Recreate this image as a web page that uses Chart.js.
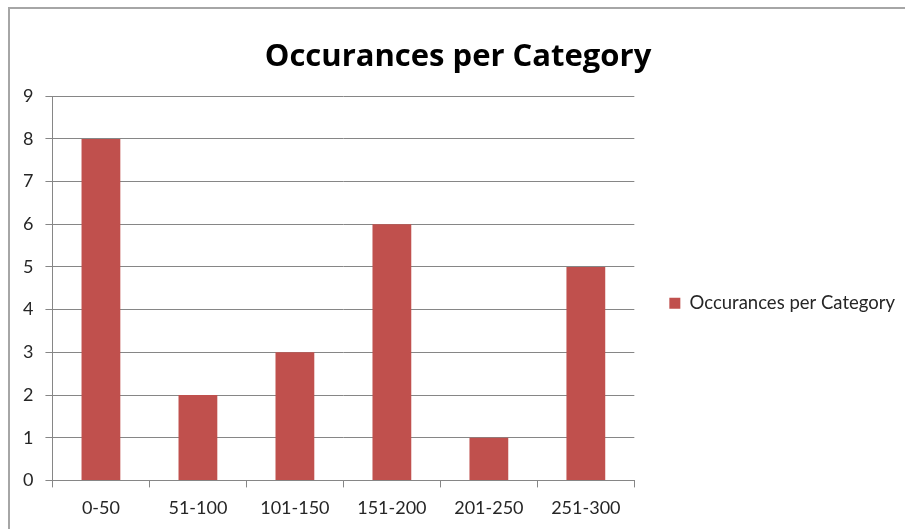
<!DOCTYPE html>
<html>
<head>
<meta charset="utf-8">
<script src="https://cdn.jsdelivr.net/npm/chart.js@4"></script>
<style>
  body { margin: 0; background: #fff; }
  #wrap { position: relative; width: 905px; height: 529px; overflow: hidden; }
  #frame { position: absolute; left: 8px; top: 7px; width: 910px; height: 540px;
           border-top: 2px solid #a6a6a6; border-left: 2px solid #a6a6a6; }
  canvas { position: absolute; left: 0; top: 0; }
</style>
</head>
<body>
<div id="wrap">
  <div id="frame"></div>
  <canvas id="myChart" width="905" height="529"></canvas>
</div>
<script>
// chart data
const categories = ['0-50', '51-100', '101-150', '151-200', '201-250', '251-300'];
const occurances = [8, 2, 3, 6, 1, 5];
const seriesName = 'Occurances per Category';
const chartTitle = 'Occurances per Category';
const yMax = 9;

const gridGrey = '#868686';
const textColor = '#262626';

var ctx = document.getElementById('myChart').getContext('2d');
var chart = new Chart(ctx, {
    type: 'bar',
    data: {
        labels: categories,
        datasets: [{
            label: seriesName,
            backgroundColor: '#C0504D',
            borderWidth: 0,
            data: occurances,
            categoryPercentage: 1,
            barPercentage: 0.4
        }]
    },
    options: {
        responsive: false,
        animation: false,
        devicePixelRatio: 1,
        layout: { padding: { top: 21, left: 11, right: 0, bottom: 0 } },
        plugins: {
            title: {
                display: true,
                text: chartTitle,
                color: '#000',
                font: { family: 'Open Sans', size: 31, weight: 'bold', lineHeight: 1.2 },
                padding: { top: 18, bottom: 20 }
            },
            legend: {
                position: 'right',
                fullSize: false,
                maxWidth: 320,
                // empty title only pushes the entry down to where Excel puts it
                title: { display: true, text: '', font: { size: 10, lineHeight: 1 }, padding: { top: 10, bottom: 10 } },
                labels: {
                    boxWidth: 11,
                    boxHeight: 11,
                    padding: 35,
                    color: textColor,
                    font: { family: 'Lato', size: 18.5 }
                }
            },
            tooltip: { enabled: false }
        },
        scales: {
            x: {
                grid: {
                    display: true,
                    drawOnChartArea: false,
                    drawTicks: true,
                    tickLength: 7,
                    color: gridGrey
                },
                border: { color: gridGrey, width: 1 },
                ticks: { color: textColor, padding: 10, font: { family: 'Lato', size: 18 } }
            },
            y: {
                min: 0,
                max: yMax,
                ticks: { stepSize: 1, color: textColor, padding: 12, font: { family: 'Lato', size: 18 } },
                grid: { color: gridGrey, tickLength: 7 },
                border: { color: gridGrey, width: 1 }
            }
        }
    }
});
</script>
</body>
</html>
